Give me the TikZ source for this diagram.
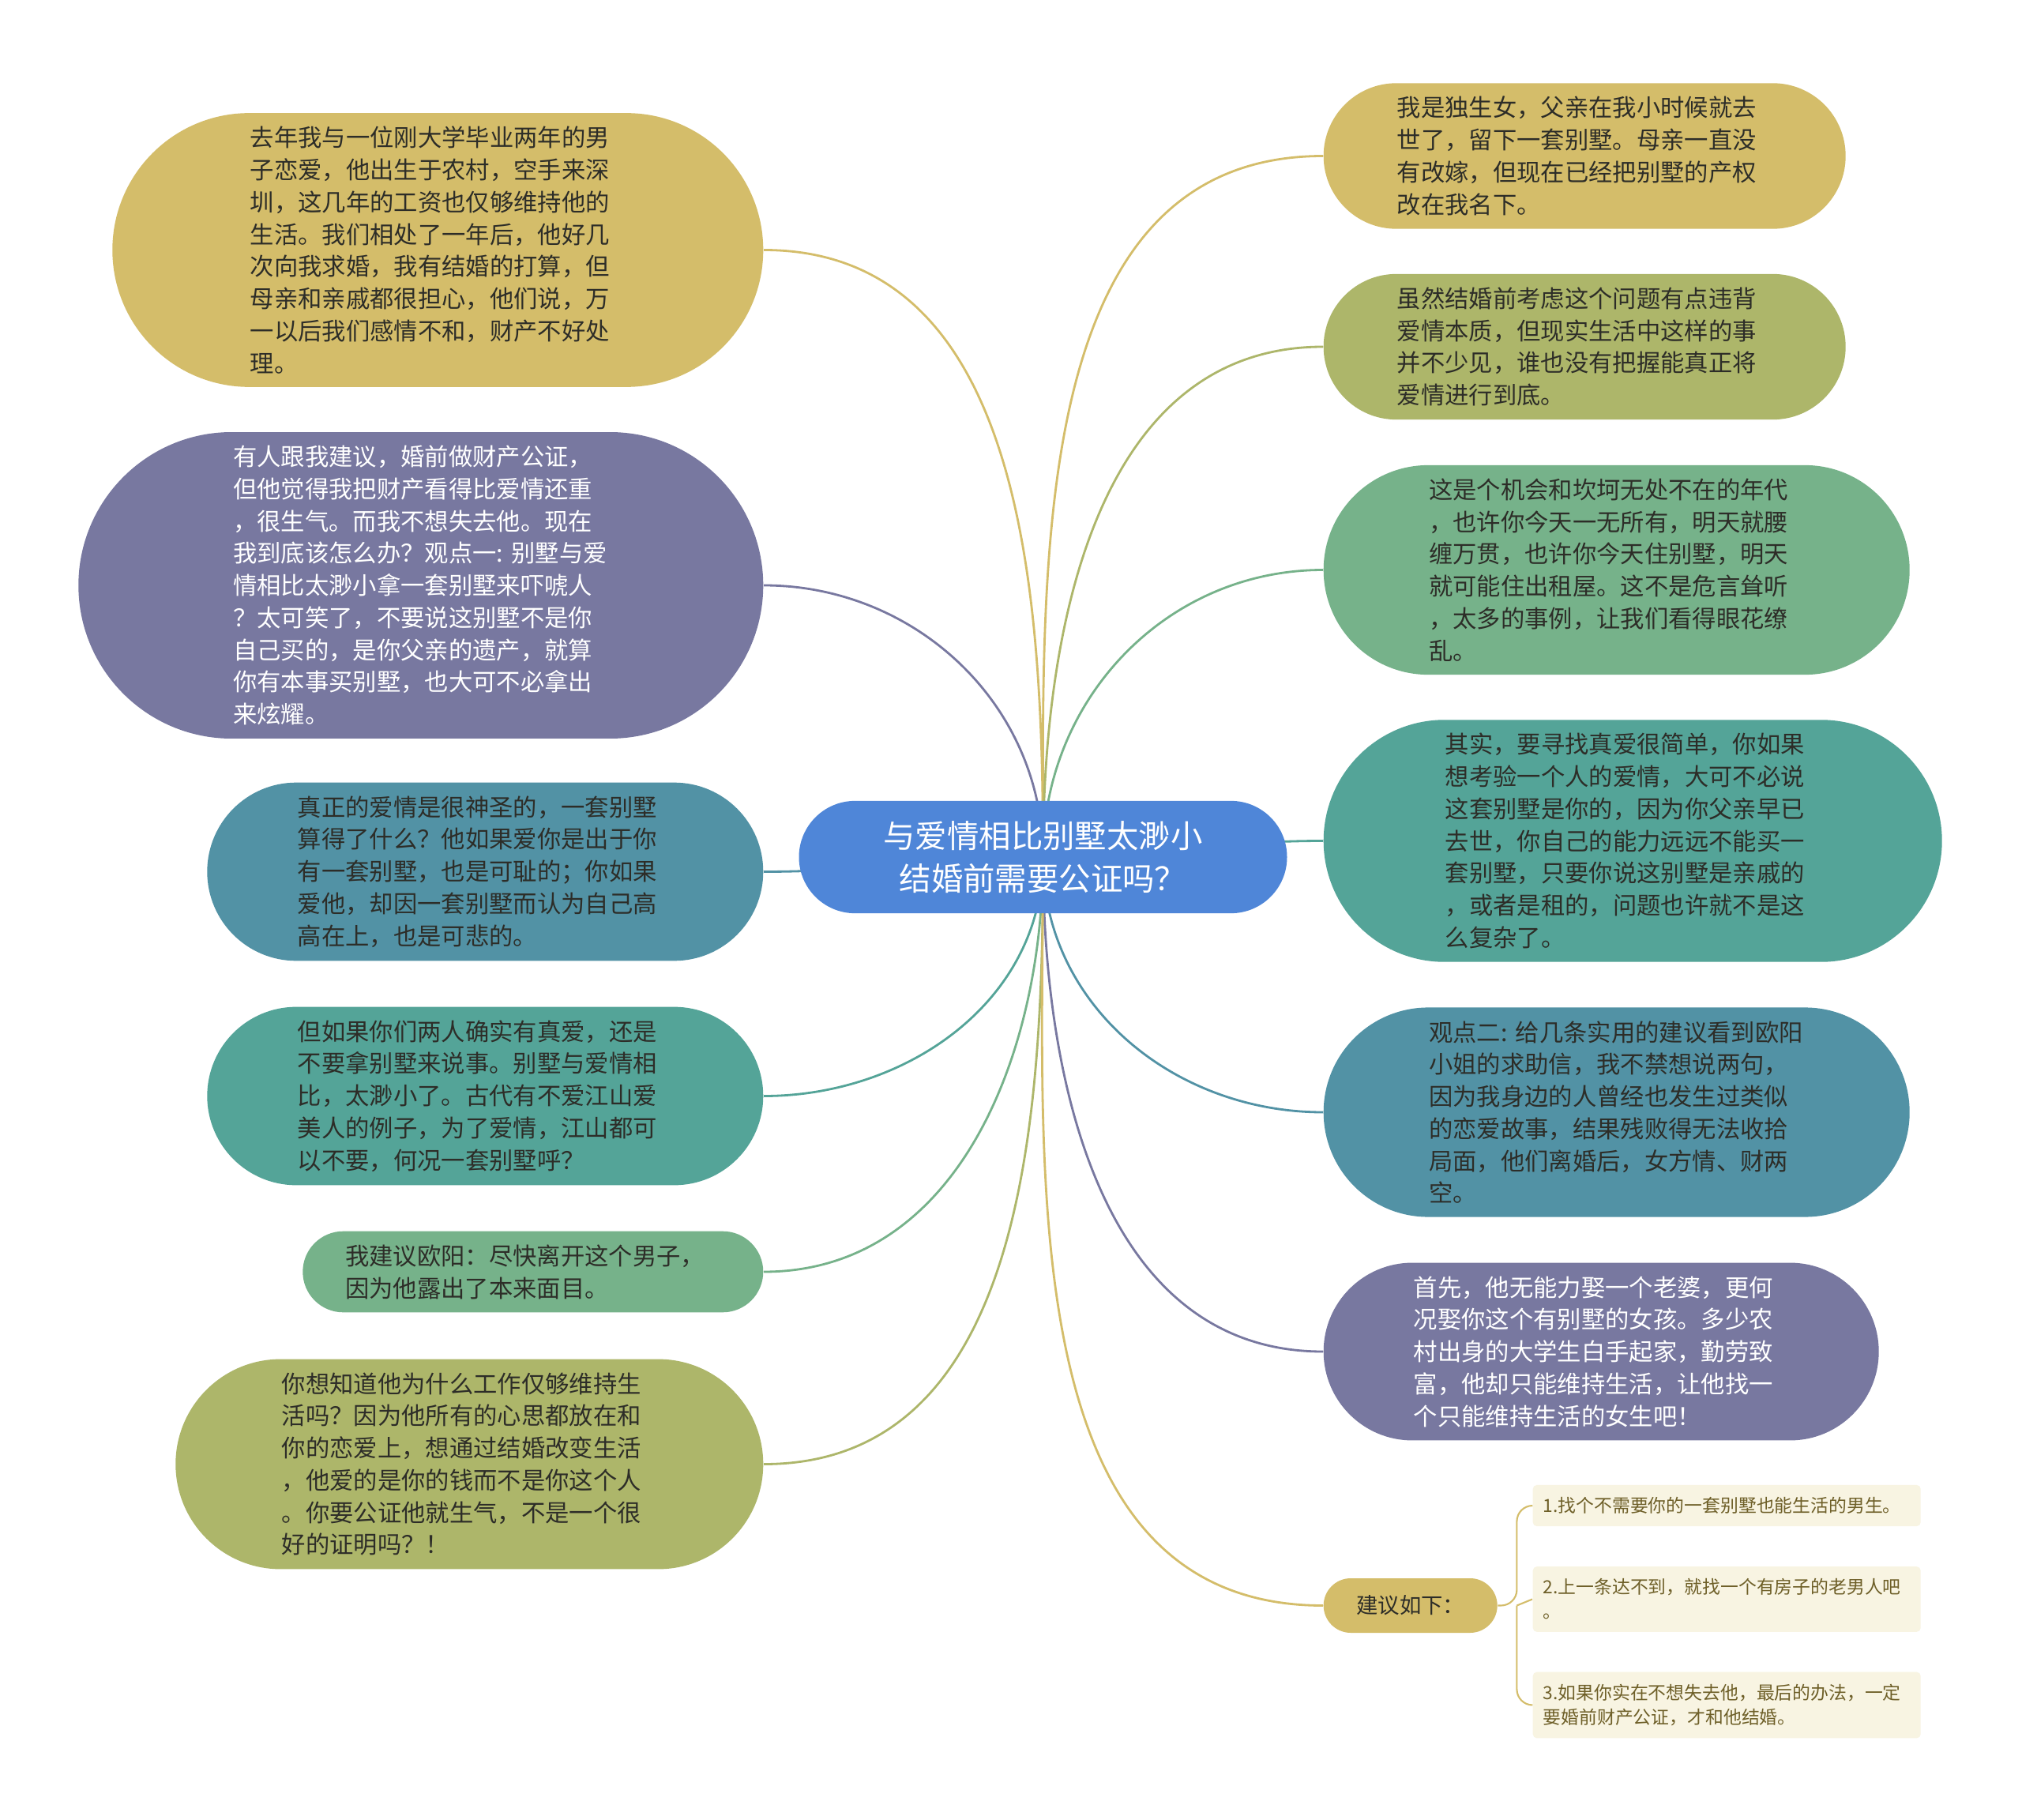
\documentclass[tikz,border=0pt]{standalone}
\usepackage{fontspec}
\setmainfont{Noto Sans CJK SC}
\usepackage{xcolor}
\definecolor{gold}{RGB}{212,189,106}
\definecolor{lilac}{RGB}{120,120,160}
\definecolor{petrol}{RGB}{82,146,165}
\definecolor{jade}{RGB}{84,164,152}
\definecolor{sage}{RGB}{118,178,138}
\definecolor{moss}{RGB}{173,182,106}
\definecolor{rootblue}{RGB}{79,134,216}
\definecolor{cream}{RGB}{248,244,226}
\definecolor{inkdark}{RGB}{45,45,40}
\definecolor{inkbrown}{RGB}{110,95,40}
\usepackage{tikz}
\usetikzlibrary{shapes.misc}
\usetikzlibrary{positioning}
\usetikzlibrary{backgrounds}

\begin{document}
\begin{tikzpicture}[leaf/.style={rounded rectangle,minimum width=#1,text width=4.75cm,align=left,inner xsep=0.08cm,inner ysep=4.8pt,font=\fontsize{8.63pt}{11.6pt}\selectfont,text=inkdark},
leftleaf/.style={leaf=#1,anchor=east},
rightleaf/.style={leaf=#1,anchor=west},
topic/.style={rounded rectangle,minimum width=6.34cm,text width=4.55cm,align=center,inner xsep=0.08cm,inner ysep=7.3pt,font=\fontsize{11.5pt}{15.3pt}\selectfont,text=white,fill=rootblue},
label/.style={rounded rectangle,minimum width=2.36cm,minimum height=0.69cm,inner xsep=0.08cm,font=\fontsize{7.8pt}{10pt}\selectfont,text=inkdark,fill=gold},
advice/.style={rectangle,rounded corners=0.05cm,fill=cream,text=inkbrown,text width=4.65cm,align=left,inner xsep=0.13cm,inner ysep=4.4pt,font=\fontsize{6.5pt}{8.8pt}\selectfont},
link/.style={line width=0.8pt}]
\useasboundingbox (0,0) rectangle (25.6,-23.04);

\node[topic] (hub) at (13.205,-10.85) {与爱情相比别墅太渺小\\结婚前需要公证吗？};

\node[leftleaf=8.40cm,fill=gold] (l1) at (9.67,-3.165) {去年我与一位刚大学毕业两年的男\\子恋爱，他出生于农村，空手来深\\圳，这几年的工资也仅够维持他的\\生活。我们相处了一年后，他好几\\次向我求婚，我有结婚的打算，但\\母亲和亲戚都很担心，他们说，万\\一以后我们感情不和，财产不好处\\理。};
\node[leftleaf=8.83cm,fill=lilac,text=white] (l2) at (9.67,-7.41) {有人跟我建议，婚前做财产公证，\\但他觉得我把财产看得比爱情还重\\，很生气。而我不想失去他。现在\\我到底该怎么办？观点一:~别墅与爱\\情相比太渺小拿一套别墅来吓唬人\\？太可笑了，不要说这别墅不是你\\自己买的，是你父亲的遗产，就算\\你有本事买别墅，也大可不必拿出\\来炫耀。};
\node[leftleaf=7.20cm,fill=petrol] (l3) at (9.67,-11.035) {真正的爱情是很神圣的，一套别墅\\算得了什么？他如果爱你是出于你\\有一套别墅，也是可耻的；你如果\\爱他，却因一套别墅而认为自己高\\高在上，也是可悲的。};
\node[leftleaf=7.20cm,fill=jade] (l4) at (9.67,-13.875) {但如果你们两人确实有真爱，还是\\不要拿别墅来说事。别墅与爱情相\\比，太渺小了。古代有不爱江山爱\\美人的例子，为了爱情，江山都可\\以不要，何况一套别墅呼？};
\node[leftleaf=5.99cm,fill=sage] (l5) at (9.67,-16.10) {我建议欧阳：尽快离开这个男子，\\因为他露出了本来面目。};
\node[leftleaf=7.60cm,fill=moss] (l6) at (9.67,-18.535) {你想知道他为什么工作仅够维持生\\活吗？因为他所有的心思都放在和\\你的恋爱上，想通过结婚改变生活\\，他爱的是你的钱而不是你这个人\\。你要公证他就生气，不是一个很\\好的证明吗？！};

\node[rightleaf=6.77cm,fill=gold] (r1) at (16.75,-1.975) {我是独生女，父亲在我小时候就去\\世了，留下一套别墅。母亲一直没\\有改嫁，但现在已经把别墅的产权\\改在我名下。};
\node[rightleaf=6.77cm,fill=moss] (r2) at (16.75,-4.39) {虽然结婚前考虑这个问题有点违背\\爱情本质，但现实生活中这样的事\\并不少见，谁也没有把握能真正将\\爱情进行到底。};
\node[rightleaf=7.58cm,fill=sage] (r3) at (16.75,-7.215) {这是个机会和坎坷无处不在的年代\\，也许你今天一无所有，明天就腰\\缠万贯，也许你今天住别墅，明天\\就可能住出租屋。这不是危言耸听\\，太多的事例，让我们看得眼花缭\\乱。};
\node[rightleaf=7.99cm,fill=jade] (r4) at (16.75,-10.645) {其实，要寻找真爱很简单，你如果\\想考验一个人的爱情，大可不必说\\这套别墅是你的，因为你父亲早已\\去世，你自己的能力远远不能买一\\套别墅，只要你说这别墅是亲戚的\\，或者是租的，问题也许就不是这\\么复杂了。};
\node[rightleaf=7.58cm,fill=petrol] (r5) at (16.75,-14.08) {观点二:~给几条实用的建议看到欧阳\\小姐的求助信，我不禁想说两句，\\因为我身边的人曾经也发生过类似\\的恋爱故事，结果残败得无法收拾\\局面，他们离婚后，女方情、财两\\空。};
\node[rightleaf=7.19cm,fill=lilac,text=white] (r6) at (16.75,-17.11) {首先，他无能力娶一个老婆，更何\\况娶你这个有别墅的女孩。多少农\\村出身的大学生白手起家，勤劳致\\富，他却只能维持生活，让他找一\\个只能维持生活的女生吧！};
\node[label,anchor=west] (r7) at (16.75,-20.325) {建议如下：};

\node[advice,anchor=west] (s1) at (19.40,-19.06) {1.找个不需要你的一套别墅也能生活的男生。};
\node[advice,anchor=west] (s2) at (19.40,-20.245) {2.上一条达不到，就找一个有房子的老男人吧\\。};
\node[advice,anchor=west] (s3) at (19.40,-21.585) {3.如果你实在不想失去他，最后的办法，一定\\要婚前财产公证，才和他结婚。};
\coordinate[right=0.24cm of r7] (fork);

\begin{scope}[on background layer]
\fill[white] (0,0) rectangle (25.6,-23.04);
\draw[link,gold] (hub.center) to[out=90,in=0] (l1.east);
\draw[link,lilac] (hub.center) to[out=90,in=0] (l2.east);
\draw[link,petrol] (hub.center) to[out=180,in=0] (l3.east);
\draw[link,jade] (hub.center) to[out=-90,in=0] (l4.east);
\draw[link,sage] (hub.center) to[out=-90,in=0] (l5.east);
\draw[link,moss] (hub.center) to[out=-90,in=0] (l6.east);
\draw[link,gold] (hub.center) to[out=90,in=180] (r1.west);
\draw[link,moss] (hub.center) to[out=90,in=180] (r2.west);
\draw[link,sage] (hub.center) to[out=90,in=180] (r3.west);
\draw[link,jade] (hub.center) to[out=0,in=180] (r4.west);
\draw[link,petrol] (hub.center) to[out=-90,in=180] (r5.west);
\draw[link,lilac] (hub.center) to[out=-90,in=180] (r6.west);
\draw[link,gold] (hub.center) to[out=-90,in=180] (r7.west);
\draw[gold,line width=0.6pt,rounded corners=0.2cm] (r7.east) -- (fork) |- (s1.west);
\draw[gold,line width=0.6pt] (fork) -- (s2.west);
\draw[gold,line width=0.6pt,rounded corners=0.2cm] (fork) |- (s3.west);
\end{scope}
\end{tikzpicture}
\end{document}
